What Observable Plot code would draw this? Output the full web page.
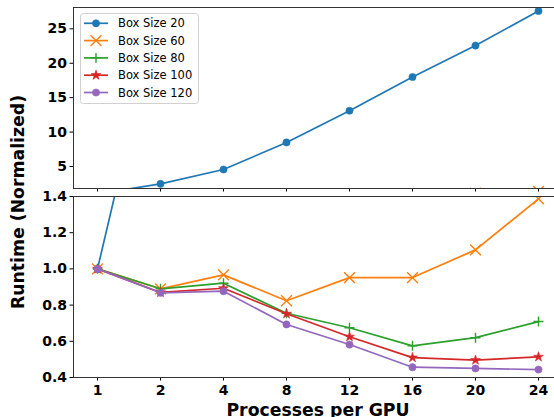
<!DOCTYPE html>
<html><head><meta charset="utf-8">
<script src="https://cdn.jsdelivr.net/npm/d3@7"></script>
<script src="https://cdn.jsdelivr.net/npm/@observablehq/plot@0.6"></script>
<style>
body{margin:0;background:#fff;overflow:hidden}
#chart{position:relative;width:554px;height:417px;overflow:hidden;font-family:"DejaVu Sans",sans-serif;background:#fff}
#top,#bottom{position:absolute;left:0;width:562px}
#top{top:0}
#bottom{top:192px}
#top svg,#bottom svg{max-width:none !important;overflow:visible}
#ytitle{position:absolute;left:19px;top:201.5px;transform:translate(-50%,-50%) rotate(-90deg);white-space:nowrap;font-weight:bold;font-size:17.3px;line-height:1;color:#000}
#legend{position:absolute;left:80px;top:13px}
</style></head><body>
<div id="chart"><div id="top"></div><div id="bottom"></div><div id="ytitle">Runtime (Normalized)</div><div id="legend"></div></div>
<script>
const procs = [1, 2, 4, 8, 12, 16, 20, 24];
const seriesNames = ["Box Size 20", "Box Size 60", "Box Size 80", "Box Size 100", "Box Size 120"];
const box20 = [1.0, 2.48, 4.56, 8.49, 13.1, 18.0, 22.57, 27.6];
const box60 = [1.0, 0.89, 0.967, 0.824, 0.952, 0.952, 1.105, 1.387];
const box80 = [1.0, 0.89, 0.921, 0.755, 0.675, 0.575, 0.62, 0.709];
const box100 = [1.0, 0.87, 0.893, 0.752, 0.625, 0.51, 0.496, 0.514];
const box120 = [1.0, 0.868, 0.877, 0.693, 0.582, 0.457, 0.45, 0.444];
const topTicks = [5, 10, 15, 20, 25];
const bottomTicks = [0.4, 0.6, 0.8, 1.0, 1.2, 1.4];
const xLabel = "Processes per GPU";

const colors = ["#1f77b4", "#ff7f0e", "#2ca02c", "#d62728", "#9467bd"];
const symbols = ["circle", "times", "plus", "star", "circle"];
const radii = [3.6, 5, 3.3, 3.1, 3.6];
const filled = [true, false, false, true, true];
const allValues = [box20, box60, box80, box100, box120];

const series = seriesNames.map((name, i) => ({
  name, color: colors[i], symbol: symbols[i], r: radii[i], filled: filled[i],
  rows: procs.map((p, j) => ({p, v: allValues[i][j]}))
}));

function seriesMarks() {
  const m = [];
  for (const s of series) {
    m.push(Plot.line(s.rows, {x: "p", y: "v", stroke: s.color, strokeWidth: 1.7, clip: true}));
    m.push(Plot.dot(s.rows, {x: "p", y: "v", symbol: s.symbol, r: s.r,
      fill: s.filled ? s.color : "none", stroke: s.color, strokeWidth: s.filled ? 0.6 : 1.4, clip: true}));
  }
  return m;
}

const style = {fontFamily: "DejaVu Sans", fontSize: "14px", fontWeight: "bold", background: "white", color: "black", maxWidth: "none", overflow: "visible"};
const xScale = {type: "point", domain: procs, padding: 0.363};

const topPlot = Plot.plot({
  width: 562, height: 192,
  marginLeft: 73, marginRight: 0, marginTop: 7, marginBottom: 4,
  style,
  x: {...xScale, tickSize: 3.5, tickFormat: () => "", label: null},
  y: {domain: [1.8, 28.1], ticks: topTicks, tickSize: 3.5, tickPadding: 3, label: null},
  marks: [...seriesMarks(), Plot.frame({stroke: "#333", strokeWidth: 1})]
});
document.getElementById("top").append(topPlot);

const bottomPlot = Plot.plot({
  width: 562, height: 225,
  marginLeft: 73, marginRight: 0, marginTop: 4, marginBottom: 40,
  style,
  x: {...xScale, tickSize: 3.5, tickPadding: 4.5, label: null},
  y: {domain: [0.4, 1.4], ticks: bottomTicks, tickFormat: d3.format(".1f"), tickSize: 3.5, tickPadding: 3, label: null},
  marks: [
    ...seriesMarks(),
    Plot.frame({stroke: "#333", strokeWidth: 1}),
    Plot.text([xLabel], {frameAnchor: "bottom", dy: 38, lineAnchor: "bottom", fontSize: 17.3, fontWeight: "bold", fill: "black"})
  ]
});
document.getElementById("bottom").append(bottomPlot);

// legend
const lg = d3.select("#legend").append("svg").attr("width", 120).attr("height", 92);
lg.append("rect").attr("x", 0.5).attr("y", 0.5).attr("width", 118).attr("height", 90).attr("rx", 3)
  .attr("fill", "white").attr("fill-opacity", 0.8).attr("stroke", "#d0d0d0");
const symMap = {circle: d3.symbolCircle, times: d3.symbolTimes, plus: d3.symbolPlus, star: d3.symbolStar};
series.forEach((s, i) => {
  const y = 10.3 + i * 17.3;
  const g = lg.append("g").attr("transform", `translate(0,${y})`);
  g.append("line").attr("x1", 4).attr("x2", 28).attr("y1", 0).attr("y2", 0).attr("stroke", s.color).attr("stroke-width", 1.7);
  g.append("path").attr("transform", "translate(16,0)")
    .attr("d", d3.symbol(symMap[s.symbol], Math.PI * s.r * s.r)())
    .attr("fill", s.filled ? s.color : "none").attr("stroke", s.color).attr("stroke-width", s.filled ? 0.6 : 1.4);
  g.append("text").attr("x", 38).attr("y", 0).attr("dy", "0.35em")
    .attr("font-family", "DejaVu Sans").attr("font-size", 11.5).text(s.name);
});
</script>
</body></html>
